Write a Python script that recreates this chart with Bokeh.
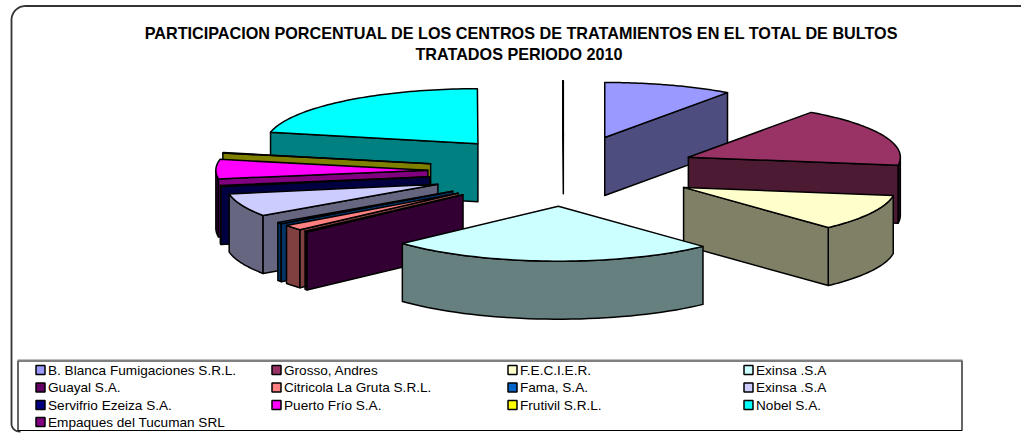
import numpy as np
from bokeh.plotting import figure
from bokeh.models import Range1d
from bokeh.core.properties import value
from bokeh.embed import file_html
from bokeh.resources import INLINE

names = ["B. Blanca Fumigaciones S.R.L.", "Grosso, Andres", "F.E.C.I.E.R.", "Exinsa .S.A",
         "Guayal S.A.", "Citricola La Gruta S.R.L.", "Fama, S.A.", "Exinsa .S.A",
         "Servifrio Ezeiza S.A.", "Puerto Frío S.A.", "Frutivil S.R.L.", "Nobel S.A.",
         "Empaques del Tucuman SRL"]
shares = [9.83, 17.53, 10.69, 25.11, 0.22, 1.61, 0.44, 6.78, 0.28, 5.69, 0.14, 21.64, 0.04]
top_colors = ["#9999FF", "#993366", "#FFFFCC", "#CCFFFF", "#660066", "#FF8080", "#0066CC",
              "#CCCCFF", "#000080", "#FF00FF", "#FFFF00", "#00FFFF", "#800080"]
side_colors = ["#4D4D80", "#4D1A33", "#808066", "#668080", "#330033", "#804040", "#003366",
               "#666680", "#000040", "#800080", "#808000", "#008080", "#400040"]
wall_colors = ["#4D4D80", "#26101A", "#808066", "#668080", "#330033", "#804040", "#003366",
               "#666680", "#000040", "#330033", "#808000", "#008080", "#400040"]
title_lines = ["PARTICIPACION PORCENTUAL DE LOS CENTROS DE TRATAMIENTOS EN EL TOTAL DE BULTOS",
               "TRATADOS PERIODO 2010"]
title_centers = [521, 518.5]
draw_order = [12, 0, 11, 10, 9, 8, 7, 6, 5, 4, 1, 2, 3]

# pie projection
CX, CY, RX, RY, DEPTH, EXPLODE = 563.0, 170.5, 212.0, 55.0, 58.0, 0.64

W, H = 1021, 433
p = figure(width=W, height=H, output_backend="svg", toolbar_location=None,
           x_range=Range1d(0, W), y_range=Range1d(H, 0), min_border=0,
           outline_line_color=None, background_fill_color="white", border_fill_color="white")
p.axis.visible = False
p.grid.visible = False
p.styles = {"position": "absolute", "top": "0", "left": "0"}

edges = np.concatenate([[0], np.cumsum(shares)]) * 3.6


def rim(ax, ay, t):
    r = np.radians(t)
    return ax + RX * np.sin(r), ay - RY * np.cos(r)


def poly(xs, ys, color):
    p.patch(list(xs), list(ys), fill_color=color, line_color="black", line_width=1.5,
            line_join="round")


for i in draw_order:
    t0, t1 = edges[i], edges[i + 1]
    mid = np.radians((t0 + t1) / 2)
    ax = CX + EXPLODE * RX * np.sin(mid)
    ay = CY - EXPLODE * RY * np.cos(mid)
    # outer wall
    a, b = max(t0, 90), min(t1, 270)
    if b > a:
        ts = np.linspace(a, b, 40)
        x, y = rim(ax, ay, ts)
        poly(np.r_[x, x[::-1]], np.r_[y, y[::-1] + DEPTH], wall_colors[i])
    # radial cut face
    cut = t1 if t1 <= 180 else (t0 if t0 >= 180 else None)
    if cut is not None:
        x, y = rim(ax, ay, cut)
        poly([ax, x, x, ax], [ay, y, y + DEPTH, ay + DEPTH], side_colors[i])
    # top face
    ts = np.linspace(t0, t1, 60)
    x, y = rim(ax, ay, ts)
    poly(np.r_[ax, x], np.r_[ay, y], top_colors[i])

# chart frame
cr = np.radians(np.linspace(270, 180, 16))
br = np.radians(np.linspace(180, 90, 16))
fx = np.r_[W + 5, 25 + 14 * np.cos(cr), 19 + 8 * np.cos(br), 20]
fy = np.r_[5.5, 19.5 + 14 * np.sin(cr), 423 + 8 * np.sin(br), 431]
p.line(list(fx), list(fy), line_color="#333333", line_width=1.8)

# legend box
p.line([17.5, 17.5, 961.5, 961.5, 17.5], [360.5, 430, 430, 360.5, 360.5], line_color="black", line_width=1.2)
p.line([17, 962], [360, 360], line_color="#808080", line_width=2)

col_x = [35.5, 271.5, 507.5, 743.5]
row_y = [369.5, 387, 404.5, 421.5]
for k, name in enumerate(names):
    x0 = col_x[k % 4]
    y0 = row_y[k // 4]
    p.rect([x0 + 4.5], [y0], width=9, height=9, fill_color=top_colors[k], line_color="black",
           line_width=1.5)
    p.text([x0 + 12], [y0], text=[name], text_font=value("Liberation Sans"),
           text_font_size="13.6px", text_color="black", text_baseline="middle", text_align="left")

for y, cx, line in zip([32, 53], title_centers, title_lines):
    p.text([cx], [y], text=[line], text_font=value("Liberation Sans"), text_font_style="bold",
           text_font_size="16.2px", text_color="black", text_baseline="middle", text_align="center")

open("out.html", "w").write(file_html(p, INLINE))
